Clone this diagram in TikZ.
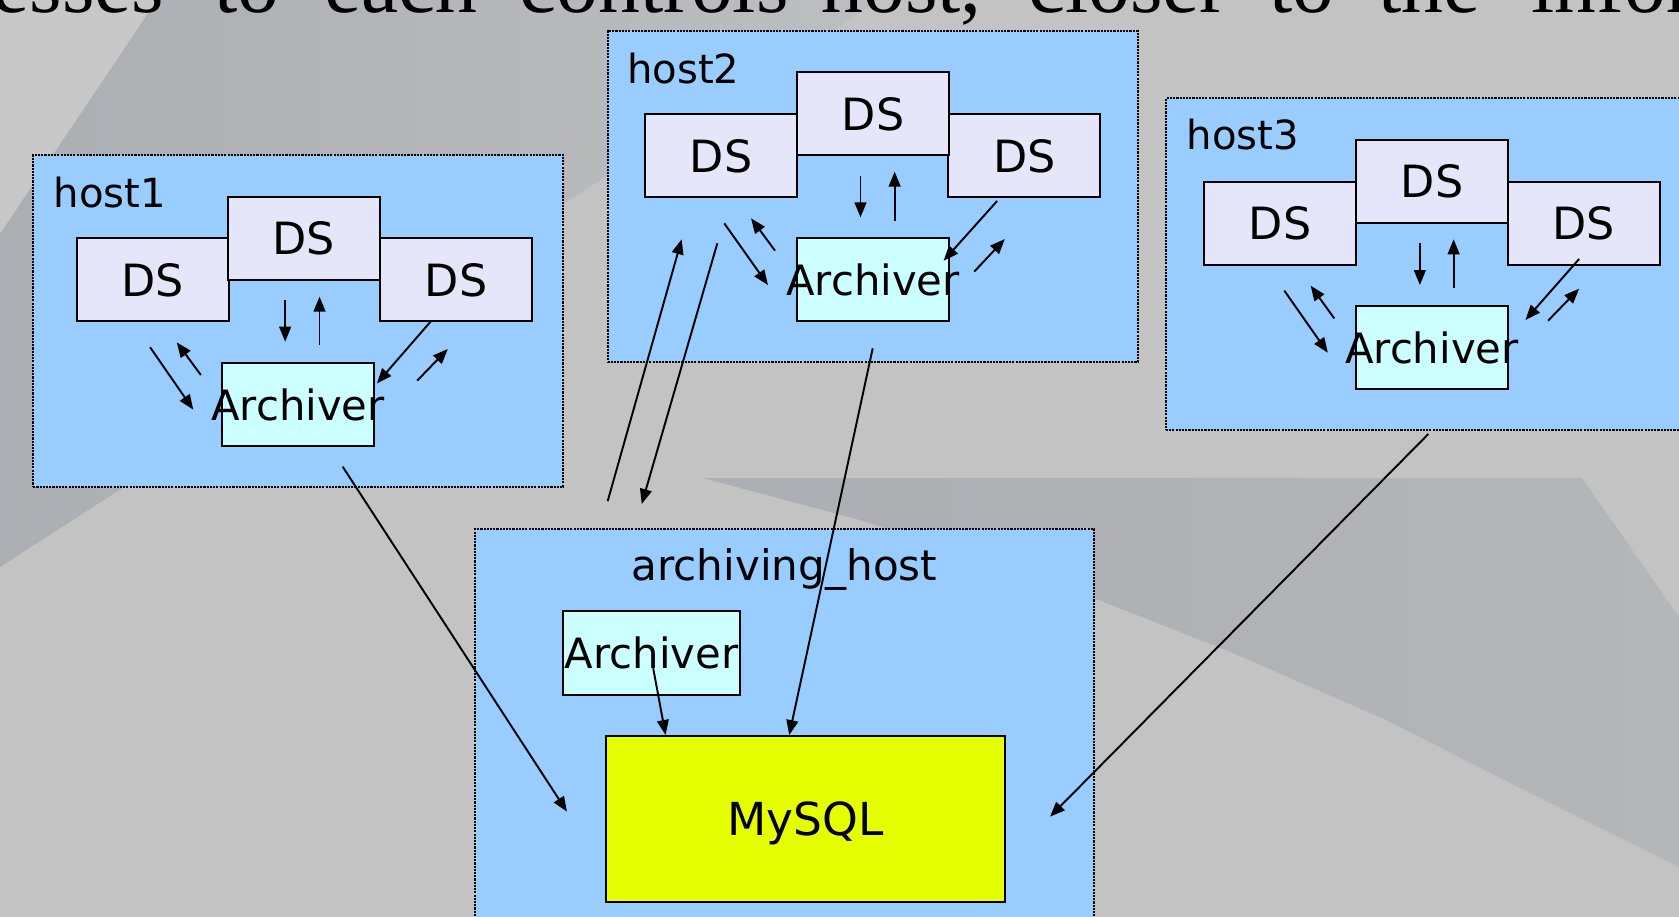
\documentclass[tikz,border=0pt]{standalone}
\usepackage{fontspec}
\setmainfont{DejaVu Sans}
\newfontfamily\serifface{Liberation Serif}
\usetikzlibrary{arrows.meta}
\definecolor{bgbase}{HTML}{C3C3C3}
\definecolor{bglight}{HTML}{C8C8C8}
\definecolor{bgdark}{HTML}{ABAEB2}
\definecolor{bgdarkr}{HTML}{BDBEC0}
\definecolor{bgdarkb}{HTML}{B4B6B8}
\definecolor{hostblue}{HTML}{99CCFF}
\definecolor{dsfill}{HTML}{E6E6FA}
\definecolor{archfill}{HTML}{CCFFFF}
\definecolor{sqlfill}{HTML}{E6FF00}
\tikzset{
  hostbox/.style={draw=black, fill=hostblue, line width=1.8pt, dash pattern=on 2pt off 1pt,
    rectangle, inner sep=0pt, outer sep=0pt, anchor=north west},
  boxnode/.style={draw=black, line width=1.9pt, rectangle, inner sep=0pt, outer sep=0pt,
    text depth=0pt, anchor=north west},
  dsbox/.style={boxnode, fill=dsfill, font=\fontsize{41.5}{48}\selectfont,
    minimum width=142pt, minimum height=77.5pt},
  archbox/.style={boxnode, fill=archfill, font=\fontsize{39}{46}\selectfont,
    minimum width=142pt, minimum height=77.5pt},
  sqlbox/.style={boxnode, fill=sqlfill, font=\fontsize{42.5}{48}\selectfont},
  hostlabel/.style={inner sep=0pt, anchor=base west, font=\fontsize{37.5}{44}\selectfont},
  toptext/.style={inner sep=0pt, anchor=base west, font=\serifface\fontsize{78}{80}\selectfont},
  arr/.style={line width=1.8pt, -{Triangle[length=14pt,width=11pt]}},
}
\begin{document}
\begin{tikzpicture}[x=1pt, y=-1pt]
\useasboundingbox (0,0) rectangle (1568,856);
\clip (0,0) rectangle (1568,856);
% background
\fill[bgbase] (0,0) rectangle (1568,856);
\fill[bglight] (0,0) -- (146.6,0) -- (0,218.5) -- cycle;
\shade[left color=bgdark, right color=bgdarkr] (146.6,0) -- (821.8,0) -- (0,529.5) -- (0,218.5) -- cycle;
\shade[left color=bgdark, right color=bgdarkb] (656.5,446.4) -- (1477.4,446.4) -- (1568,576.2)
  -- (1568,809.7) -- (1436.3,744.3) -- (1294.4,672.4) -- (1151.5,609.8) -- (1018.9,557.5)
  -- (803,485.6) -- cycle;
% top text (cut off at the top edge)
\node[toptext] (w1) at (-7,12) {esses};
\node[toptext] (w2) at (200,12) {to};
\node[toptext] (w3) at (303,12) {each};
\node[toptext] (w4) at (485,12) {controls};
\node[toptext] (w5) at (767,12) {host,};
\node[toptext] (w6) at (960,12) {closer};
\node[toptext] (w7) at (1185,12) {to};
\node[toptext] (w8) at (1287,12) {the};
\node[toptext] (w9) at (1430,12) {infor};

% host boxes
\node[hostbox, minimum width=495pt, minimum height=309.5pt] (host1) at (31,145) {};
\node[hostbox, minimum width=495pt, minimum height=309.4pt] (host2) at (567.4,29) {};
\node[hostbox, minimum width=520pt, minimum height=309.8pt] (host3) at (1088.8,91.8) {};
\node[hostbox, minimum width=577.8pt, minimum height=420pt] (ahost) at (444,494) {};

\node[hostlabel] (h1lab) at (50,194) {host1};
\node[hostlabel] (h2lab) at (585.5,78) {host2};
\node[hostlabel] (h3lab) at (1108,140) {host3};
\node[inner sep=0pt, anchor=base, font=\fontsize{39.3}{46}\selectfont] (alab) at (732.5,542) {archiving\_host};

% host1 contents
\node[dsbox] (h1dsL) at (71.5,222.6) {DS};
\node[dsbox] (h1dsR) at (354.9,222.6) {DS};
\node[dsbox] (h1dsM) at (212.7,183.7) {DS};
\node[archbox] (h1arch) at (207.3,338.7) {\makebox[0pt]{Archiver}};
% host2 contents
\node[dsbox] (h2dsL) at (602.4,106.5) {DS};
\node[dsbox] (h2dsR) at (885.6,106.5) {DS};
\node[dsbox] (h2dsM) at (744.3,67.4) {DS};
\node[archbox] (h2arch) at (744.3,222.4) {\makebox[0pt]{Archiver}};
% host3 contents
\node[dsbox] (h3dsL) at (1124.4,169.6) {DS};
\node[dsbox] (h3dsR) at (1408,169.6) {DS};
\node[dsbox] (h3dsM) at (1266.4,130.6) {DS};
\node[archbox] (h3arch) at (1266.2,285.5) {\makebox[0pt]{Archiver}};
% archiving host contents
\node[archbox, minimum width=165.5pt, minimum height=78pt] (aarch) at (525.8,570.6) {\makebox[0pt]{Archiver}};
\node[sqlbox, minimum width=372.3pt, minimum height=155pt] (mysql) at (566.2,687) {MySQL};

% arrow end points
\coordinate (h1a1s) at (140.2,324.3); \coordinate (h1a1e) at (180.5,382.6);
\coordinate (h1a2s) at (187.6,350.2); \coordinate (h1a2e) at (165.1,319.7);
\coordinate (h1a3s) at (266.3,280.2); \coordinate (h1a3e) at (266.3,319.1);
\coordinate (h1a4s) at (298.4,322.2); \coordinate (h1a4e) at (298.4,277);
\coordinate (h1a5s) at (402.1,300.4); \coordinate (h1a5e) at (352,358);
\coordinate (h1a6s) at (389.6,355.5); \coordinate (h1a6e) at (418.2,325.9);

\coordinate (h2a1s) at (676.4,208.6); \coordinate (h2a1e) at (717.2,266.2);
\coordinate (h2a2s) at (723.8,234.1); \coordinate (h2a2e) at (701.4,203.9);
\coordinate (h2a3s) at (803.6,164.4); \coordinate (h2a3e) at (803.6,203);
\coordinate (h2a4s) at (835.5,206);   \coordinate (h2a4e) at (835.5,160.3);
\coordinate (h2a5s) at (931.2,187.7); \coordinate (h2a5e) at (881.2,243.5);
\coordinate (h2a6s) at (909.8,253.7); \coordinate (h2a6e) at (938.4,223.2);

\coordinate (h3a1s) at (1199.4,271.4); \coordinate (h3a1e) at (1240,329.4);
\coordinate (h3a2s) at (1246,297.3);   \coordinate (h3a2e) at (1224,266.8);
\coordinate (h3a3s) at (1326,227.2);   \coordinate (h3a3e) at (1326,266.2);
\coordinate (h3a4s) at (1357.5,269.3); \coordinate (h3a4e) at (1357.5,223.5);
\coordinate (h3a5s) at (1474.7,241.9); \coordinate (h3a5e) at (1424.6,298.8);
\coordinate (h3a6s) at (1445.7,299.5); \coordinate (h3a6e) at (1474.7,269.6);

\coordinate (l1s) at (320,435.8);     \coordinate (l1e) at (529.5,758);
\coordinate (l2s) at (567.5,468);     \coordinate (l2e) at (636.6,223.5);
\coordinate (l3s) at (669.9,227.2);   \coordinate (l3e) at (599.3,470.7);
\coordinate (l4s) at (815,325.3);     \coordinate (l4e) at (737,686.5);
\coordinate (l5s) at (1333.9,405.3);  \coordinate (l5e) at (980.6,762.7);
\coordinate (l6s) at (610,624);       \coordinate (l6e) at (621.6,686.4);

\foreach \h in {h1,h2,h3}{
  \foreach \i in {1,...,6}{
    \draw[arr] (\h a\i s) -- (\h a\i e);
  }
}
\foreach \i in {1,...,6}{
  \draw[arr] (l\i s) -- (l\i e);
}
\end{tikzpicture}
\end{document}
